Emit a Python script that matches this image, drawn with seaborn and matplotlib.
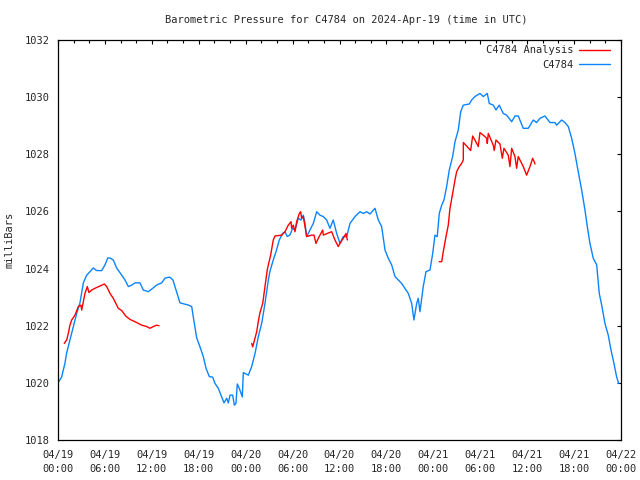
import numpy as np
import pandas as pd
import matplotlib
matplotlib.use('Agg')
import matplotlib.pyplot as plt
from matplotlib.lines import Line2D
import seaborn as sns

# hours since 2024-04-19 00:00 UTC
blue_h = [0.0, 0.47, 0.9, 1.1, 1.53, 1.96, 2.4, 2.81, 3.24, 3.67, 4.09, 4.51, 4.95, 5.59,
          6.01, 6.36, 6.65, 7.07, 7.5, 8.15, 8.57, 9.0, 9.42, 9.85, 10.49, 10.9, 11.55,
          11.98, 12.6, 13.26, 13.7, 14.3, 14.7, 15.2, 15.6, 16.7, 17.1, 17.3, 17.74,
          18.16, 18.58, 18.93, 19.35, 19.78, 20.08, 20.5, 20.93, 21.23, 21.57, 21.78,
          22.0, 22.34, 22.55, 22.76, 22.93, 23.18, 23.57, 23.7, 24.34, 24.77, 25.2,
          25.61, 26.05, 26.47, 26.9, 27.1, 27.53, 27.88, 28.3, 28.73, 29.03, 29.32,
          29.67, 30.01, 30.31, 30.73, 31.07, 31.37, 31.59, 31.8, 32.23, 32.65, 33.08,
          33.5, 33.93, 34.36, 34.78, 35.2, 35.64, 36.06, 36.48, 36.92, 37.34, 37.98,
          38.62, 39.04, 39.47, 39.9, 40.54, 40.96, 41.39, 41.82, 42.24, 42.67, 43.1,
          43.52, 43.95, 44.37, 44.8, 45.23, 45.52, 45.87, 46.07, 46.29, 46.71, 47.06,
          47.57, 47.92, 48.21, 48.5, 48.76, 49.07, 49.36, 49.7, 50.04, 50.47, 50.77,
          51.19, 51.5, 51.83, 52.6, 52.9, 53.32, 53.96, 54.39, 54.9, 55.15, 55.67,
          56.01, 56.43, 56.94, 57.38, 58.02, 58.44, 58.86, 59.5, 60.14, 60.78, 61.21,
          61.64, 62.28, 62.92, 63.55, 63.77, 64.41, 64.83, 65.26, 65.69, 66.11, 66.53,
          66.97, 67.39, 67.69, 68.03, 68.45, 68.89, 69.22, 69.53, 69.95, 70.37, 70.72,
          71.1, 71.44, 71.7]
blue_p = [1020.0, 1020.21, 1020.7, 1021.04, 1021.5, 1021.97, 1022.44, 1022.8, 1023.5,
          1023.77, 1023.89, 1024.02, 1023.93, 1023.93, 1024.13, 1024.37, 1024.37, 1024.3,
          1024.02, 1023.77, 1023.6, 1023.37, 1023.42, 1023.5, 1023.5, 1023.25, 1023.19,
          1023.28, 1023.42, 1023.5, 1023.67, 1023.7, 1023.6, 1023.15, 1022.8, 1022.72,
          1022.67, 1022.31, 1021.57, 1021.26, 1020.92, 1020.51, 1020.22, 1020.2, 1019.98,
          1019.81, 1019.51, 1019.3, 1019.46, 1019.3, 1019.57, 1019.57, 1019.22, 1019.28,
          1019.96, 1019.81, 1019.51, 1020.36, 1020.27, 1020.57, 1021.03, 1021.61, 1022.08,
          1022.78, 1023.6, 1023.9, 1024.3, 1024.59, 1025.0, 1025.23, 1025.29, 1025.12,
          1025.18, 1025.41, 1025.35, 1025.76, 1025.7, 1025.87, 1025.58, 1025.12, 1025.35,
          1025.58, 1025.99, 1025.87, 1025.82, 1025.7, 1025.41, 1025.7, 1025.23, 1024.88,
          1025.12, 1025.12, 1025.58, 1025.82, 1025.99, 1025.93, 1025.99, 1025.91, 1026.11,
          1025.7, 1025.47, 1024.65, 1024.36, 1024.13, 1023.72, 1023.6, 1023.48, 1023.31,
          1023.13, 1022.78, 1022.2, 1022.78, 1022.96, 1022.49, 1023.37, 1023.89, 1023.95,
          1024.53, 1025.17, 1025.12, 1025.93, 1026.22, 1026.4, 1026.87, 1027.45, 1027.92,
          1028.44, 1028.85, 1029.49, 1029.72, 1029.76, 1029.9, 1030.02, 1030.13, 1030.02,
          1030.13, 1029.78, 1029.72, 1029.55, 1029.72, 1029.43, 1029.37, 1029.14, 1029.34,
          1029.34, 1028.91, 1028.91, 1029.2, 1029.11, 1029.26, 1029.34, 1029.11, 1029.11,
          1029.02, 1029.2, 1029.11, 1028.97, 1028.56, 1028.03, 1027.39, 1026.75, 1026.05,
          1025.47, 1024.88, 1024.36, 1024.13, 1023.13, 1022.72, 1022.08, 1021.67, 1021.15,
          1020.68, 1020.21, 1019.98]

# analysis, three separate runs
red1_h = [0.8, 1.11, 1.32, 1.53, 1.75, 2.17, 2.6, 2.94, 3.03, 3.24, 3.45, 3.75, 3.96,
          4.31, 4.73, 5.37, 5.92, 6.23, 6.65, 7.07, 7.71, 8.15, 8.66, 9.21, 9.85, 10.7,
          11.34, 11.76, 12.19, 12.62, 12.92]
red1_p = [1021.38, 1021.5, 1021.73, 1022.02, 1022.2, 1022.37, 1022.67, 1022.72, 1022.55,
          1022.84, 1023.13, 1023.37, 1023.16, 1023.25, 1023.31, 1023.39, 1023.46, 1023.37,
          1023.13, 1022.96, 1022.61, 1022.53, 1022.34, 1022.22, 1022.14, 1022.02, 1021.97,
          1021.91, 1021.97, 1022.02, 1022.0]
red2_h = [24.77, 24.9, 25.19, 25.41, 25.61, 25.83, 26.18, 26.47, 26.76, 26.9, 27.2, 27.53,
          27.75, 28.61, 29.03, 29.45, 29.8, 29.88, 30.09, 30.31, 30.52, 30.86, 31.03,
          31.16, 31.37, 31.59, 31.8, 32.44, 32.74, 32.99, 33.29, 33.85, 33.93, 34.44,
          35.0, 35.42, 35.84, 36.06, 36.48, 36.83, 37.0]
red2_p = [1021.38, 1021.26, 1021.56, 1021.79, 1022.14, 1022.46, 1022.78, 1023.37, 1023.95,
          1024.13, 1024.48, 1025.0, 1025.14, 1025.17, 1025.29, 1025.52, 1025.64, 1025.41,
          1025.52, 1025.29, 1025.64, 1025.93, 1025.99, 1025.76, 1025.82, 1025.47, 1025.12,
          1025.17, 1025.17, 1024.88, 1025.06, 1025.35, 1025.17, 1025.23, 1025.29, 1025.0,
          1024.77, 1024.88, 1025.06, 1025.23, 1025.0]
red3_h = [48.76, 49.07, 49.27, 49.62, 49.91, 50.13, 50.47, 50.77, 50.98, 51.32, 51.62,
          51.83, 51.84, 52.26, 52.77, 53.03, 53.32, 53.75, 53.96, 54.6, 54.82, 54.9,
          55.03, 55.66, 55.79, 56.01, 56.52, 56.82, 57.03, 57.58, 57.8, 58.02, 58.44,
          58.65, 58.86, 59.5, 59.93, 60.36, 60.7, 60.9, 61.0]
red3_p = [1024.24, 1024.24, 1024.59, 1025.12, 1025.52, 1026.11, 1026.63, 1027.1, 1027.39,
          1027.57, 1027.68, 1027.8, 1028.41, 1028.29, 1028.13, 1028.64, 1028.5, 1028.27,
          1028.76, 1028.62, 1028.56, 1028.38, 1028.73, 1028.32, 1028.13, 1028.5, 1028.36,
          1027.86, 1028.21, 1027.97, 1027.57, 1028.21, 1027.92, 1027.51, 1027.92, 1027.57,
          1027.27, 1027.57, 1027.86, 1027.74, 1027.66]

tick_labels = ['04/19\n00:00', '04/19\n06:00', '04/19\n12:00', '04/19\n18:00',
               '04/20\n00:00', '04/20\n06:00', '04/20\n12:00', '04/20\n18:00',
               '04/21\n00:00', '04/21\n06:00', '04/21\n12:00', '04/21\n18:00',
               '04/22\n00:00']

frames = [pd.DataFrame({'hour': blue_h, 'mb': blue_p, 'series': 'C4784', 'seg': 0})]
for i, (h, p) in enumerate([(red1_h, red1_p), (red2_h, red2_p), (red3_h, red3_p)]):
    frames.append(pd.DataFrame({'hour': h, 'mb': p, 'series': 'C4784 Analysis', 'seg': i + 1}))
df = pd.concat(frames, ignore_index=True)

sns.set_style('white')
plt.rcParams['font.family'] = ['DejaVu Sans Mono']
plt.rcParams['font.size'] = 7.5

colors = {'C4784': '#0a84ff', 'C4784 Analysis': '#ff0000'}

fig = plt.figure(figsize=(6.4, 4.8), dpi=100)
ax = fig.add_axes([58 / 640, 1 - 440 / 480, 563 / 640, 400 / 480])
sns.lineplot(data=df, x='hour', y='mb', hue='series', units='seg', estimator=None,
             palette=colors, linewidth=1, legend=False, ax=ax, sort=False)

ax.set_xlim(0, 72)
ax.set_ylim(1018, 1032)
ax.set_xticks(np.arange(0, 73, 6))
ax.set_xticklabels(tick_labels, linespacing=1.5)
ax.set_xticks(np.arange(0, 73, 2), minor=True)
ax.set_yticks(np.arange(1018, 1033, 2))
ax.tick_params(which='both', direction='in', top=True, right=True, length=3,
               width=0.8, color='black', labelsize=7.5)
ax.tick_params(which='minor', length=2.5)
ax.tick_params(axis='x', pad=7)
ax.tick_params(axis='y', pad=6)
for s in ax.spines.values():
    s.set_color('black')
    s.set_linewidth(0.9)
ax.set_xlabel('')
ax.set_ylabel('milliBars', fontsize=7.5, labelpad=7)

handles = [Line2D([], [], color=colors['C4784 Analysis'], lw=1),
           Line2D([], [], color=colors['C4784'], lw=1)]
ax.legend(handles, ['C4784 Analysis', 'C4784'], loc='upper right',
          bbox_to_anchor=(0.981, 0.987), markerfirst=False, frameon=False,
          handlelength=3.0, handletextpad=0.5, labelspacing=0.45,
          borderaxespad=0, borderpad=0, fontsize=7.5)

fig.text(346 / 640, 1 - 20 / 480, 'Barometric Pressure for C4784 on 2024-Apr-19 (time in UTC)',
         ha='center', va='center', fontsize=7.5)

fig.savefig('out.png', dpi=100)
